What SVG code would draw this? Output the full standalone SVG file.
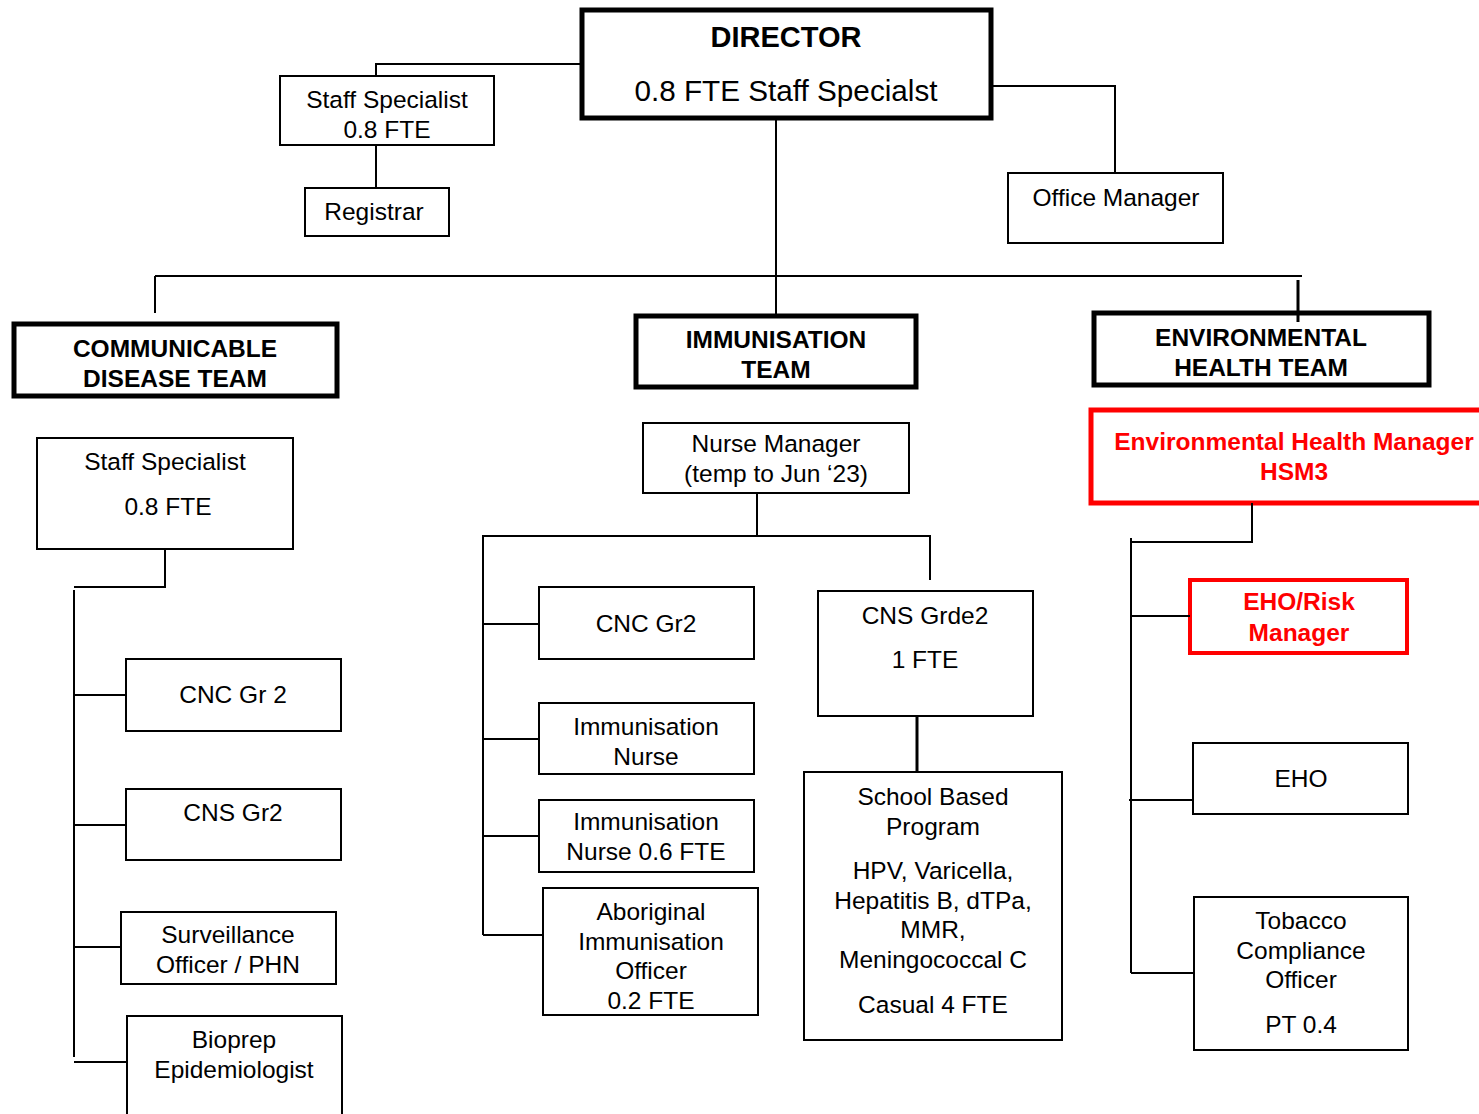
<svg xmlns="http://www.w3.org/2000/svg" width="1479" height="1114" viewBox="0 0 1479 1114">
<style>
text{font-family:"Liberation Sans",Arial,sans-serif;font-size:24.5px;fill:#000;text-anchor:middle}
.b{font-weight:bold}
.r{fill:#ff0000;font-weight:bold}
.box{fill:#fff;stroke:#000;stroke-width:2}
.team{fill:#fff;stroke:#000;stroke-width:5}
.red{fill:#fff;stroke:#ff0000;stroke-width:5}
.c{fill:none;stroke:#000;stroke-width:2}
</style>
<rect width="1479" height="1114" fill="#fff"/>
<g id="director"><rect class="team" x="582" y="10" width="409" height="108"/><text class="b" x="786" y="47" style="font-size:29px">DIRECTOR</text><text x="786" y="101" style="font-size:29.7px">0.8 FTE Staff Specialst</text></g>
<g id="staff-specialist-top"><rect class="box" x="280" y="76" width="214" height="69"/><text x="387" y="108">Staff Specialist</text><text x="387" y="138">0.8 FTE</text></g>
<g id="registrar"><rect class="box" x="305" y="188" width="144" height="48"/><text x="374" y="220">Registrar</text></g>
<g id="office-manager"><rect class="box" x="1008" y="173" width="215" height="70"/><text x="1116" y="206">Office Manager</text></g>
<g id="cd-team"><rect class="team" x="14" y="324" width="323" height="72"/><text class="b" x="175" y="357">COMMUNICABLE</text><text class="b" x="175" y="387">DISEASE TEAM</text></g>
<g id="imm-team"><rect class="team" x="636" y="316" width="280" height="71"/><text class="b" x="776" y="348">IMMUNISATION</text><text class="b" x="776" y="378">TEAM</text></g>
<g id="eh-team"><rect class="team" x="1094" y="313" width="335" height="72"/><text class="b" x="1261" y="346">ENVIRONMENTAL</text><text class="b" x="1261" y="376">HEALTH TEAM</text></g>
<g id="eh-manager"><rect class="red" x="1091" y="410" width="400" height="93"/><text class="r" x="1294" y="450">Environmental Health Manager</text><text class="r" x="1294" y="480">HSM3</text></g>
<g id="eho-risk"><rect class="red" x="1190" y="580" width="217" height="73" style="stroke-width:4"/><text class="r" x="1299" y="610">EHO/Risk</text><text class="r" x="1299" y="641">Manager</text></g>
<g id="eho"><rect class="box" x="1193" y="743" width="215" height="71"/><text x="1301" y="787">EHO</text></g>
<g id="tobacco"><rect class="box" x="1194" y="897" width="214" height="153"/><text x="1301" y="929">Tobacco</text><text x="1301" y="959">Compliance</text><text x="1301" y="988">Officer</text><text x="1301" y="1033">PT 0.4</text></g>
<g id="cd-staff-specialist"><rect class="box" x="37" y="438" width="256" height="111"/><text x="165" y="470">Staff Specialist</text><text x="168" y="515">0.8 FTE</text></g>
<g id="cnc-gr-2"><rect class="box" x="126" y="659" width="215" height="72"/><text x="233" y="703">CNC Gr 2</text></g>
<g id="cns-gr2"><rect class="box" x="126" y="789" width="215" height="71"/><text x="233" y="821">CNS Gr2</text></g>
<g id="surveillance"><rect class="box" x="121" y="912" width="215" height="72"/><text x="228" y="943">Surveillance</text><text x="228" y="973">Officer / PHN</text></g>
<g id="bioprep"><rect class="box" x="127" y="1016" width="215" height="110"/><text x="234" y="1048">Bioprep</text><text x="234" y="1078">Epidemiologist</text></g>
<g id="nurse-manager"><rect class="box" x="643" y="423" width="266" height="70"/><text x="776" y="452">Nurse Manager</text><text x="776" y="482">(temp to Jun ‘23)</text></g>
<g id="cnc-gr2"><rect class="box" x="539" y="587" width="215" height="72"/><text x="646" y="632">CNC Gr2</text></g>
<g id="imm-nurse"><rect class="box" x="539" y="703" width="215" height="71"/><text x="646" y="735">Immunisation</text><text x="646" y="765">Nurse</text></g>
<g id="imm-nurse-06"><rect class="box" x="539" y="800" width="215" height="72"/><text x="646" y="830">Immunisation</text><text x="646" y="860">Nurse 0.6 FTE</text></g>
<g id="aboriginal"><rect class="box" x="543" y="888" width="215" height="127"/><text x="651" y="920">Aboriginal</text><text x="651" y="950">Immunisation</text><text x="651" y="979">Officer</text><text x="651" y="1009">0.2 FTE</text></g>
<g id="cns-grde2"><rect class="box" x="818" y="591" width="215" height="125"/><text x="925" y="624">CNS Grde2</text><text x="925" y="668">1 FTE</text></g>
<g id="school-based"><rect class="box" x="804" y="772" width="258" height="268"/><text x="933" y="805">School Based</text><text x="933" y="835">Program</text><text x="933" y="879">HPV, Varicella,</text><text x="933" y="909">Hepatitis B, dTPa,</text><text x="933" y="938">MMR,</text><text x="933" y="968">Meningococcal C</text><text x="933" y="1013">Casual 4 FTE</text></g>
<g id="connectors">
<polyline class="c" points="376,76 376,64 582,64"/>
<line class="c" x1="376" y1="145" x2="376" y2="188"/>
<polyline class="c" points="991,86 1115,86 1115,173"/>
<line class="c" x1="776" y1="118" x2="776" y2="316"/>
<line class="c" x1="155" y1="276" x2="1302" y2="276"/>
<line class="c" x1="155" y1="276" x2="155" y2="313"/>
<line class="c" x1="1298" y1="280" x2="1298" y2="322" style="stroke-width:3"/>
<polyline class="c" points="1252,503 1252,542 1131,542"/>
<line class="c" x1="1131" y1="538" x2="1131" y2="973"/>
<line class="c" x1="1131" y1="616" x2="1190" y2="616"/>
<line class="c" x1="1129" y1="800" x2="1193" y2="800"/>
<line class="c" x1="1131" y1="973" x2="1194" y2="973"/>
<polyline class="c" points="165,549 165,587 74,587"/>
<line class="c" x1="74" y1="590" x2="74" y2="1057"/>
<line class="c" x1="74" y1="695" x2="126" y2="695"/>
<line class="c" x1="74" y1="825" x2="126" y2="825"/>
<line class="c" x1="74" y1="947" x2="121" y2="947"/>
<line class="c" x1="74" y1="1062" x2="127" y2="1062"/>
<line class="c" x1="757" y1="493" x2="757" y2="536"/>
<polyline class="c" points="483,935 483,536 930,536 930,580"/>
<line class="c" x1="483" y1="624" x2="539" y2="624"/>
<line class="c" x1="483" y1="739" x2="539" y2="739"/>
<line class="c" x1="483" y1="836" x2="539" y2="836"/>
<line class="c" x1="483" y1="935" x2="543" y2="935"/>
<line class="c" x1="917" y1="716" x2="917" y2="772" style="stroke-width:3"/>
</g>
</svg>
